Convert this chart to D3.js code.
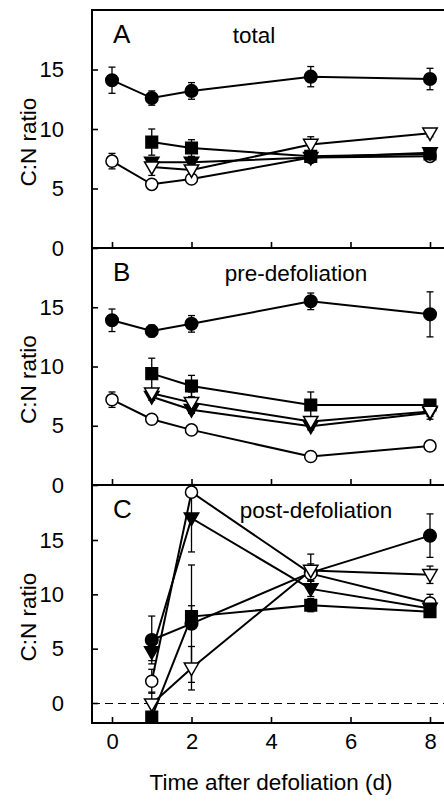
<!DOCTYPE html>
<html><head><meta charset="utf-8">
<script src="https://cdn.jsdelivr.net/npm/d3@7"></script>
<style>
html,body{margin:0;padding:0;background:#fff;}
svg text{font-family:"Liberation Sans",Arial,Helvetica,sans-serif;fill:#000;}
</style>
</head><body>
<svg id="chart" width="444" height="801"></svg>
<script>
// ---------- data ----------
const days = [0, 1, 2, 5, 8];
const xTicks = [0, 2, 4, 6, 8];
const yTicks = [0, 5, 10, 15];
const panelLetters = ["A", "B", "C"];
const panelTitles = ["total", "pre-defoliation", "post-defoliation"];
const yLabel = "C:N ratio";
const xLabel = "Time after defoliation (d)";

// Panel A: total
const aFilledCircle   = [14.1, 12.6, 13.2, 14.4, 14.2];
const aFilledCircleE  = [1.1, 0.6, 0.7, 0.85, 0.9];
const aOpenCircle     = [7.3, 5.35, 5.8, 7.6, 7.7];
const aOpenCircleE    = [0.65, 0.2, 0.3, 0.4, 0.3];
const aFilledSquare   = [null, 8.9, 8.4, 7.7, 7.9];
const aFilledSquareE  = [null, 1.1, 0.7, 0.5, 0.5];
const aFilledTri      = [null, 7.2, 7.2, 7.6, 8.0];
const aFilledTriE     = [null, 0.3, 0.3, 0.4, 0.4];
const aOpenTri        = [null, 6.8, 6.55, 8.7, 9.65];
const aOpenTriE       = [null, 0.7, 0.5, 0.65, 0.3];

// Panel B: pre-defoliation
const bFilledCircle   = [13.9, 13.0, 13.6, 15.5, 14.4];
const bFilledCircleE  = [0.95, 0.5, 0.7, 0.7, 1.9];
const bOpenCircle     = [7.2, 5.55, 4.65, 2.4, 3.3];
const bOpenCircleE    = [0.65, 0.2, 0.2, 0.2, 0.2];
const bFilledSquare   = [null, 9.4, 8.35, 6.75, 6.75];
const bFilledSquareE  = [null, 1.3, 0.9, 1.1, 0.2];
const bFilledTri      = [null, 7.45, 6.35, 4.95, 6.1];
const bFilledTriE     = [null, 0.3, 0.3, 0.3, 0.3];
const bOpenTri        = [null, 7.75, 6.95, 5.35, 6.2];
const bOpenTriE       = [null, 0.3, 0.9, 0.3, 0.65];

// Panel C: post-defoliation
const cFilledCircle   = [null, 5.8, 7.3, 12.0, 15.4];
const cFilledCircleE  = [null, 2.2, 5.4, 0.8, 2.0];
const cOpenCircle     = [null, 2.0, 19.4, 11.9, 9.2];
const cOpenCircleE    = [null, 1.1, 0.4, 0.6, 0.8];
const cFilledSquare   = [null, -1.3, 7.95, 9.0, 8.4];
const cFilledSquareE  = [null, 0.3, 1.0, 0.6, 0.5];
const cFilledTri      = [null, 4.7, 17.0, 10.5, 8.7];
const cFilledTriE     = [null, 0.8, 3.1, 0.7, 0.5];
const cOpenTri        = [null, -0.1, 3.2, 12.2, 11.8];
const cOpenTriE       = [null, 1.1, 2.0, 1.5, 0.8];

// ---------- layout ----------
const svg = d3.select("#chart");
const left = 92, right = 444;
const x = d3.scaleLinear().domain([0, 8]).range([112, 430]);

const panels = [
  {top: 10,  bottom: 248, domain: [0, 20], series: [
    ["fc", aFilledCircle, aFilledCircleE], ["oc", aOpenCircle, aOpenCircleE],
    ["fs", aFilledSquare, aFilledSquareE], ["ft", aFilledTri, aFilledTriE], ["ot", aOpenTri, aOpenTriE]]},
  {top: 248, bottom: 485, domain: [0, 20], series: [
    ["fc", bFilledCircle, bFilledCircleE], ["oc", bOpenCircle, bOpenCircleE],
    ["fs", bFilledSquare, bFilledSquareE], ["ft", bFilledTri, bFilledTriE], ["ot", bOpenTri, bOpenTriE]]},
  {top: 485, bottom: 723, domain: [-1.84, 20.06], series: [
    ["fc", cFilledCircle, cFilledCircleE], ["oc", cOpenCircle, cOpenCircleE],
    ["fs", cFilledSquare, cFilledSquareE], ["ft", cFilledTri, cFilledTriE], ["ot", cOpenTri, cOpenTriE]]}
];

const markerStyle = {
  fc: {type: d3.symbolCircle, size: 125, fill: "#000", rot: 0},
  oc: {type: d3.symbolCircle, size: 115, fill: "#fff", rot: 0},
  fs: {type: d3.symbolSquare, size: 135, fill: "#000", rot: 0},
  ft: {type: d3.symbolTriangle, size: 90, fill: "#000", rot: 180},
  ot: {type: d3.symbolTriangle, size: 90, fill: "#fff", rot: 180}
};

panels.forEach((p, i) => {
  const y = d3.scaleLinear().domain(p.domain).range([p.bottom, p.top]);
  const g = svg.append("g");

  // y axis (inward ticks)
  const ya = g.append("g").attr("transform", `translate(${left},0)`)
    .call(d3.axisLeft(y).tickValues(yTicks).tickSizeInner(-6).tickSizeOuter(0).tickPadding(28));
  ya.select(".domain").remove();
  ya.selectAll(".tick line").attr("stroke", "#000").attr("stroke-width", 1.6);
  ya.selectAll(".tick text").attr("font-size", 22).attr("font-family", "Liberation Sans, Arial, sans-serif");

  // x axis (inward ticks at panel bottom)
  const xa = g.append("g").attr("transform", `translate(0,${p.bottom})`)
    .call(d3.axisBottom(x).tickValues(xTicks).tickSizeInner(-6).tickSizeOuter(0).tickPadding(10));
  xa.select(".domain").remove();
  xa.selectAll(".tick line").attr("stroke", "#000").attr("stroke-width", 1.6);
  xa.selectAll(".tick text").attr("font-size", 22).attr("font-family", "Liberation Sans, Arial, sans-serif");
  if (i < 2) xa.selectAll(".tick text").remove();

  // frame lines
  g.append("line").attr("x1", left).attr("x2", right).attr("y1", p.bottom).attr("y2", p.bottom)
    .attr("stroke", "#000").attr("stroke-width", 2);
  if (i === 0) g.append("line").attr("x1", left).attr("x2", right).attr("y1", p.top).attr("y2", p.top)
    .attr("stroke", "#000").attr("stroke-width", 2);
  g.append("line").attr("x1", left).attr("x2", left).attr("y1", p.top - 1).attr("y2", p.bottom + 1)
    .attr("stroke", "#000").attr("stroke-width", 2);

  // zero dashed line in C
  if (i === 2) {
    const y0 = Math.round(y(0)) + 0.5;
    g.append("line").attr("x1", left).attr("x2", right).attr("y1", y0).attr("y2", y0)
      .attr("stroke", "#000").attr("stroke-width", 1.1).attr("stroke-dasharray", "8,5");
  }

  // y label
  g.append("text").attr("transform", `translate(36,${(p.top + p.bottom) / 2 + 13}) rotate(-90)`)
    .attr("text-anchor", "middle").attr("font-size", 22.5).text(yLabel);

  // panel letter and title
  g.append("text").attr("x", 113).attr("y", p.top + 33).attr("font-size", 26).text(panelLetters[i]);
  g.append("text").attr("x", [254, 296, 316][i]).attr("y", p.top + 33).attr("text-anchor", "middle")
    .attr("font-size", 22.5).text(panelTitles[i]);

  // series
  const line = d3.line().defined(d => d.v != null).x(d => x(d.d)).y(d => y(d.v));
  p.series.forEach(([key, vals, errs]) => {
    const pts = days.map((d, j) => ({d, v: vals[j], e: errs[j]})).filter(d => d.v != null);
    const sg = g.append("g");
    // error bars
    pts.forEach(pt => {
      if (!pt.e) return;
      const cx = x(pt.d), y1 = y(pt.v - pt.e), y2 = y(pt.v + pt.e);
      sg.append("line").attr("x1", cx).attr("x2", cx).attr("y1", y1).attr("y2", y2)
        .attr("stroke", "#000").attr("stroke-width", 1.3);
      [y1, y2].forEach(yy => sg.append("line").attr("x1", cx - 3.5).attr("x2", cx + 3.5)
        .attr("y1", yy).attr("y2", yy).attr("stroke", "#000").attr("stroke-width", 1.3));
    });
    sg.append("path").datum(pts).attr("d", line).attr("fill", "none")
      .attr("stroke", "#000").attr("stroke-width", 2);
  });
  p.series.forEach(([key, vals, errs]) => {
    const pts = days.map((d, j) => ({d, v: vals[j]})).filter(d => d.v != null);
    const ms = markerStyle[key];
    g.append("g").selectAll("path").data(pts).join("path")
      .attr("d", d3.symbol().type(ms.type).size(ms.size))
      .attr("transform", d => `translate(${x(d.d)},${y(d.v) + (ms.rot ? -1 : 0)}) rotate(${ms.rot})`)
      .attr("fill", ms.fill).attr("stroke", "#000").attr("stroke-width", 1.5);
  });
});

// x label
svg.append("text").attr("x", 271).attr("y", 790).attr("text-anchor", "middle")
  .attr("font-size", 22.5).text(xLabel);
</script>
</body></html>
